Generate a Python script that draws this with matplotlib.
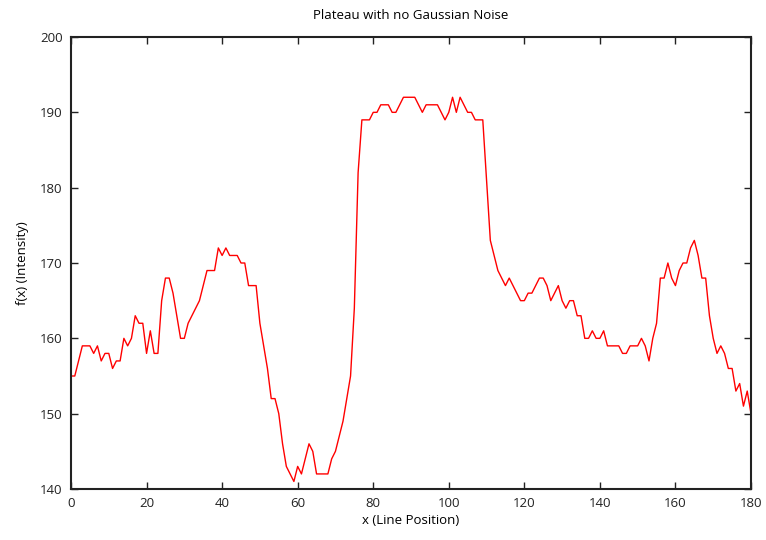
import matplotlib
matplotlib.use("Agg")
import matplotlib.pyplot as plt
import numpy as np

plt.rcParams['font.family'] = ['Open Sans', 'DejaVu Sans']

x_positions = list(range(0, 181))
intensity = [
    155, 155, 157, 159, 159, 159, 158, 159, 157, 158,
    158, 156, 157, 157, 160, 159, 160, 163, 162, 162,
    158, 161, 158, 158, 165, 168, 168, 166, 163, 160,
    160, 162, 163, 164, 165, 167, 169, 169, 169, 172,
    171, 172, 171, 171, 171, 170, 170, 167, 167, 167,
    162, 159, 156, 152, 152, 150, 146, 143, 142, 141,
    143, 142, 144, 146, 145, 142, 142, 142, 142, 144,
    145, 147, 149, 152, 155, 164, 182, 189, 189, 189,
    190, 190, 191, 191, 191, 190, 190, 191, 192, 192,
    192, 192, 191, 190, 191, 191, 191, 191, 190, 189,
    190, 192, 190, 192, 191, 190, 190, 189, 189, 189,
    181, 173, 171, 169, 168, 167, 168, 167, 166, 165,
    165, 166, 166, 167, 168, 168, 167, 165, 166, 167,
    165, 164, 165, 165, 163, 163, 160, 160, 161, 160,
    160, 161, 159, 159, 159, 159, 158, 158, 159, 159,
    159, 160, 159, 157, 160, 162, 168, 168, 170, 168,
    167, 169, 170, 170, 172, 173, 171, 168, 168, 163,
    160, 158, 159, 158, 156, 156, 153, 154, 151, 153,
    150,
]
x_ticks = [0, 20, 40, 60, 80, 100, 120, 140, 160, 180]
y_ticks = [140, 150, 160, 170, 180, 190, 200]

fig = plt.figure(figsize=(7.66, 5.40), dpi=100)
ax = fig.add_axes([71/766, 1-489/540, (751-71)/766, (489-37)/540])
ax.plot(x_positions, intensity, color='#ff0000', linewidth=1.0)
ax.set_xlim(0, 180)
ax.set_ylim(140, 200)
ax.set_xticks(x_ticks)
ax.set_yticks(y_ticks)
ax.tick_params(direction='in', length=5, width=1, top=True, right=True,
               labelsize=9.5, colors='#222222', pad=6)
for s in ax.spines.values():
    s.set_linewidth(1.5)
    s.set_color('#222222')
ax.set_title('Plateau with no Gaussian Noise', fontsize=9.5, pad=13)
ax.set_xlabel('x (Line Position)', fontsize=9.5, labelpad=3)
ax.set_ylabel('f(x) (Intensity)', fontsize=9.5, labelpad=8)
fig.savefig('out.png', dpi=100)
